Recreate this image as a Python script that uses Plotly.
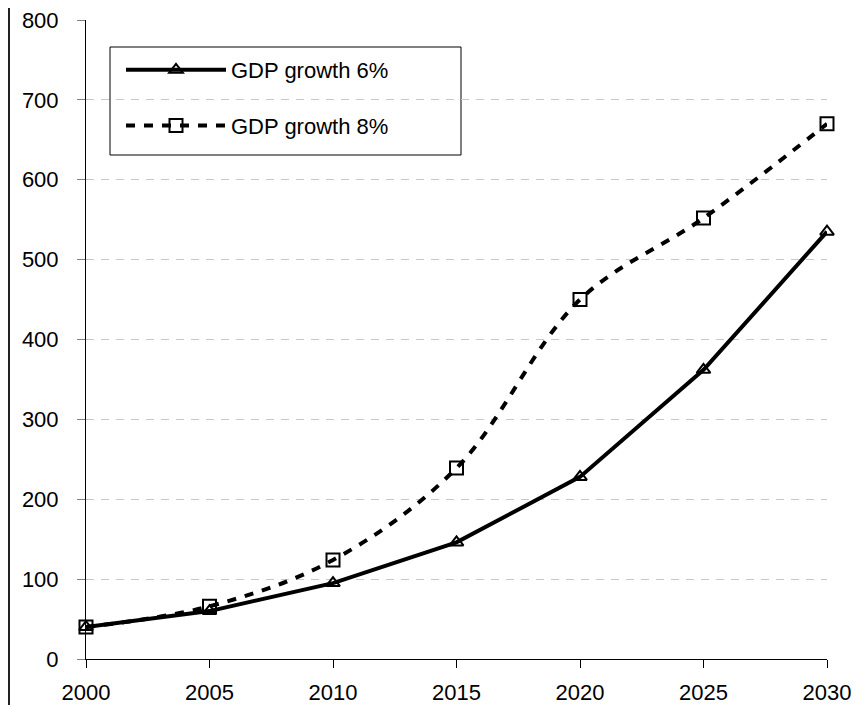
import plotly.graph_objects as go

years = [2000, 2005, 2010, 2015, 2020, 2025, 2030]
gdp6 = [40, 60, 95, 146, 228, 362, 535]
gdp8 = [40, 66, 124, 239, 450, 552, 670]
name6 = "GDP growth 6%"
name8 = "GDP growth 8%"
y_ticks = [0, 100, 200, 300, 400, 500, 600, 700, 800]
x_ticks = [2000, 2005, 2010, 2015, 2020, 2025, 2030]

FONT = "Liberation Sans, Arial, sans-serif"

fig = go.Figure()
fig.add_trace(go.Scatter(
    x=years, y=gdp6, name=name6, mode="lines+markers", legendgroup="a",
    cliponaxis=False,
    line=dict(color="black", width=4),
    marker=dict(symbol="triangle-up-open", size=12, color="black",
                line=dict(color="black", width=2)),
))
fig.add_trace(go.Scatter(
    x=years, y=gdp8, name=name8, mode="lines+markers", legendgroup="b",
    cliponaxis=False,
    line=dict(color="black", width=4, dash="9px,9px", shape="spline", smoothing=1),
    marker=dict(symbol="square-open", size=13, color="black",
                line=dict(color="black", width=2)),
))

# page has an 8px body margin; figure coordinates are page - 8
W, H = 851, 697
L, R, T, B = 78, 32, 12, 46
pw = W - L - R
ph = H - T - B


def px(xf):
    return (xf - L) / pw


def py(yf):
    return (H - B - yf) / ph


fig.update_layout(
    width=W, height=H,
    margin=dict(l=L, r=R, t=T, b=B, autoexpand=False),
    paper_bgcolor="white", plot_bgcolor="white",
    font=dict(family=FONT, size=22, color="black"),
    showlegend=True,
    legend=dict(
        x=px(113), y=py(41), xanchor="left", yanchor="top",
        borderwidth=0, bgcolor="rgba(0,0,0,0)",
        font=dict(family=FONT, size=22, color="black"),
        itemwidth=100, tracegroupgap=24,
    ),
    xaxis=dict(
        range=[2000, 2030], tickmode="array", tickvals=x_ticks,
        ticktext=[str(v) for v in x_ticks],
        showline=True, linecolor="black", linewidth=1,
        ticks="outside", ticklen=8, tickcolor="black", tickwidth=1,
        showgrid=False, zeroline=False, ticklabelstandoff=6, automargin=False,
        ticklabeloverflow="allow",
    ),
    yaxis=dict(
        range=[0, 800], tickmode="array", tickvals=y_ticks,
        ticktext=[str(v) for v in y_ticks],
        showline=True, linecolor="black", linewidth=1,
        ticks="outside", ticklen=8, tickcolor="gray", tickwidth=1,
        showgrid=True, gridcolor="#c8c8c8", gridwidth=1, griddash="8px,7px",
        zeroline=False, ticklabelstandoff=14, automargin=False,
        ticklabeloverflow="allow",
    ),
    shapes=[
        dict(type="line", xref="paper", yref="paper",
             x0=px(1), x1=px(1), y0=py(H), y1=py(0),
             line=dict(color="#222222", width=2)),
        dict(type="rect", xref="paper", yref="paper", layer="between",
             x0=px(102), x1=px(453), y0=py(147), y1=py(39),
             fillcolor="white", line=dict(color="black", width=1)),
    ],
)

fig.write_html("out.html")
